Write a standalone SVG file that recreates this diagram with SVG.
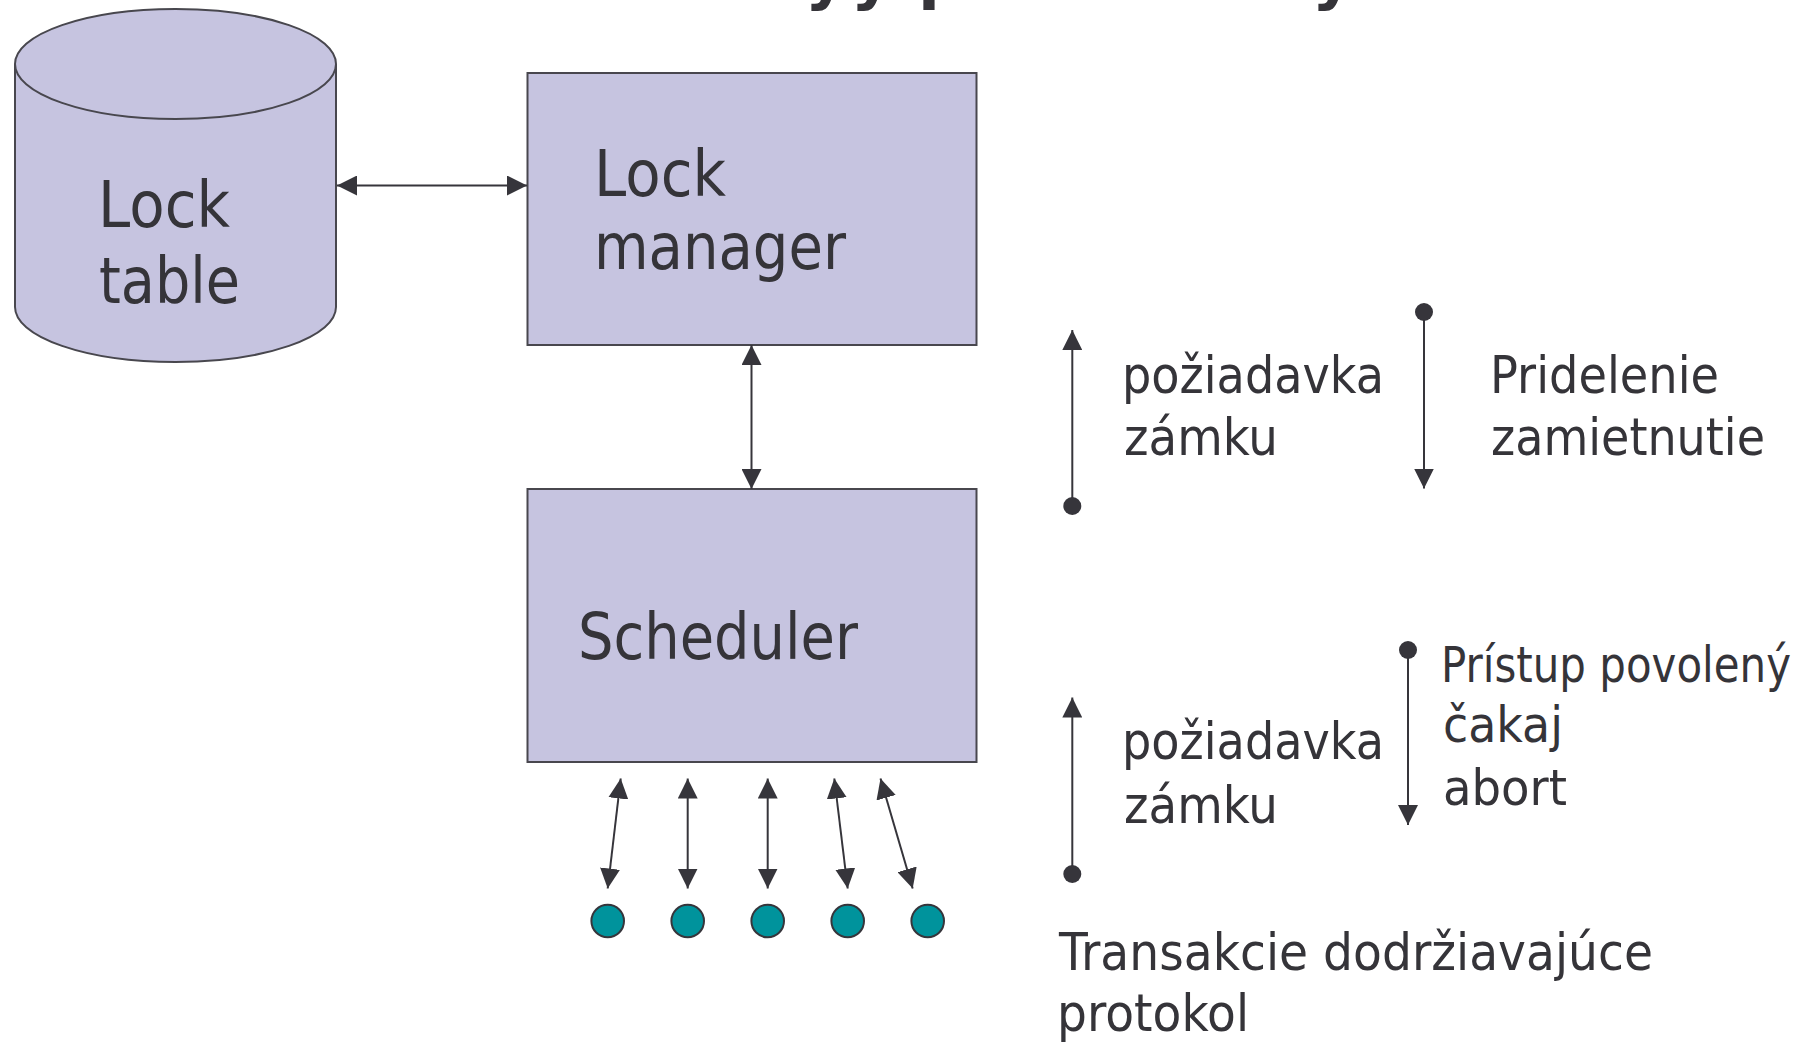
<svg xmlns="http://www.w3.org/2000/svg" width="1810" height="1042" viewBox="0 0 1810 1042">
  <style>
    .shape { fill: #c6c4e0; stroke: #48474e; stroke-width: 2; }
    .big { font-family: "DejaVu Sans", Verdana, sans-serif; font-size: 64px; fill: #353439; }
    .lbl { font-family: "DejaVu Sans", Verdana, sans-serif; font-size: 52px; fill: #353439; }
    .lbl2 { font-family: "DejaVu Sans", Verdana, sans-serif; font-size: 50px; fill: #353439; }
    .head { font-family: "DejaVu Sans", Verdana, sans-serif; font-size: 64px; font-weight: bold; fill: #353439; }
    .wire { stroke: #36353b; stroke-width: 2; fill: none; }
    .tx { fill: #00939c; stroke: #36353b; stroke-width: 2; }
  </style>
  <defs>
    <marker id="tri" markerUnits="userSpaceOnUse" markerWidth="20" markerHeight="20" refX="20" refY="10" orient="auto-start-reverse" viewBox="0 0 20 20">
      <path d="M0,0 L20,10 L0,20 Z" fill="#36353b"/>
    </marker>
    <marker id="dot" markerUnits="userSpaceOnUse" markerWidth="20" markerHeight="20" refX="10" refY="10" viewBox="0 0 20 20">
      <circle cx="10" cy="10" r="9" fill="#36353b"/>
    </marker>
  </defs>

  <rect width="1810" height="1042" fill="#ffffff"/>

  <!-- heading line sits above the top edge; only its descenders reach into view -->
  <g id="heading">
    <text class="head" x="805" y="-3">y</text>
    <text class="head" x="851" y="-3">y</text>
    <text class="head" x="918" y="-3">p</text>
    <text class="head" x="1312" y="-3">y</text>
  </g>

  <g id="lock-table">
    <path class="shape" d="M15,64 V307 A160.5,55 0 0 0 336,307 V64"/>
    <ellipse class="shape" cx="175.5" cy="64" rx="160.5" ry="55"/>
    <text class="big" x="98" y="227" textLength="132" lengthAdjust="spacingAndGlyphs">Lock</text>
    <text class="big" x="99" y="303" textLength="141" lengthAdjust="spacingAndGlyphs">table</text>
  </g>

  <g id="lock-manager">
    <rect class="shape" x="527.5" y="73" width="449" height="272"/>
    <text class="big" x="594" y="196" textLength="132" lengthAdjust="spacingAndGlyphs">Lock</text>
    <text class="big" x="594" y="269" textLength="252" lengthAdjust="spacingAndGlyphs">manager</text>
  </g>

  <g id="scheduler">
    <rect class="shape" x="527.5" y="489" width="449" height="273"/>
    <text class="big" x="578" y="659" textLength="280" lengthAdjust="spacingAndGlyphs">Scheduler</text>
  </g>

  <g id="transactions">
    <circle class="tx" cx="607.7" cy="921" r="16.3"/>
    <circle class="tx" cx="687.7" cy="921" r="16.3"/>
    <circle class="tx" cx="767.7" cy="921" r="16.3"/>
    <circle class="tx" cx="847.7" cy="921" r="16.3"/>
    <circle class="tx" cx="927.7" cy="921" r="16.3"/>
  </g>

  <g id="connectors">
    <line class="wire" x1="337" y1="185.5" x2="527" y2="185.5" marker-start="url(#tri)" marker-end="url(#tri)"/>
    <line class="wire" x1="751.5" y1="345" x2="751.5" y2="489" marker-start="url(#tri)" marker-end="url(#tri)"/>
    <line class="wire" x1="620.7" y1="778.5" x2="607.7" y2="888.5" marker-start="url(#tri)" marker-end="url(#tri)"/>
    <line class="wire" x1="687.7" y1="778.5" x2="687.7" y2="888.5" marker-start="url(#tri)" marker-end="url(#tri)"/>
    <line class="wire" x1="767.7" y1="778.5" x2="767.7" y2="888.5" marker-start="url(#tri)" marker-end="url(#tri)"/>
    <line class="wire" x1="834.3" y1="778.5" x2="847.7" y2="888.5" marker-start="url(#tri)" marker-end="url(#tri)"/>
    <line class="wire" x1="880.5" y1="778.5" x2="912.7" y2="888.5" marker-start="url(#tri)" marker-end="url(#tri)"/>
  </g>

  <!-- legend: request / response flows -->
  <g id="legend-manager">
    <line class="wire" x1="1072.3" y1="506" x2="1072.3" y2="330" marker-start="url(#dot)" marker-end="url(#tri)"/>
    <text class="lbl" x="1122" y="393" textLength="262" lengthAdjust="spacingAndGlyphs">požiadavka</text>
    <text class="lbl" x="1124" y="455" textLength="154" lengthAdjust="spacingAndGlyphs">zámku</text>
    <line class="wire" x1="1424" y1="312" x2="1424" y2="488.5" marker-start="url(#dot)" marker-end="url(#tri)"/>
    <text class="lbl" x="1490" y="393" textLength="229" lengthAdjust="spacingAndGlyphs">Pridelenie</text>
    <text class="lbl" x="1491" y="455" textLength="274" lengthAdjust="spacingAndGlyphs">zamietnutie</text>
  </g>

  <g id="legend-scheduler">
    <line class="wire" x1="1072.3" y1="874" x2="1072.3" y2="697.5" marker-start="url(#dot)" marker-end="url(#tri)"/>
    <text class="lbl" x="1122" y="759" textLength="262" lengthAdjust="spacingAndGlyphs">požiadavka</text>
    <text class="lbl" x="1124" y="822.5" textLength="154" lengthAdjust="spacingAndGlyphs">zámku</text>
    <line class="wire" x1="1408" y1="650" x2="1408" y2="825" marker-start="url(#dot)" marker-end="url(#tri)"/>
    <text class="lbl2" x="1441" y="681.5" textLength="350" lengthAdjust="spacingAndGlyphs">Prístup povolený</text>
    <text class="lbl2" x="1443" y="742" textLength="120" lengthAdjust="spacingAndGlyphs">čakaj</text>
    <text class="lbl2" x="1443" y="805" textLength="124" lengthAdjust="spacingAndGlyphs">abort</text>
  </g>

  <g id="caption">
    <text class="lbl" x="1059" y="970" textLength="594" lengthAdjust="spacingAndGlyphs">Transakcie dodržiavajúce</text>
    <text class="lbl" x="1057" y="1031" textLength="192" lengthAdjust="spacingAndGlyphs">protokol</text>
  </g>
</svg>
